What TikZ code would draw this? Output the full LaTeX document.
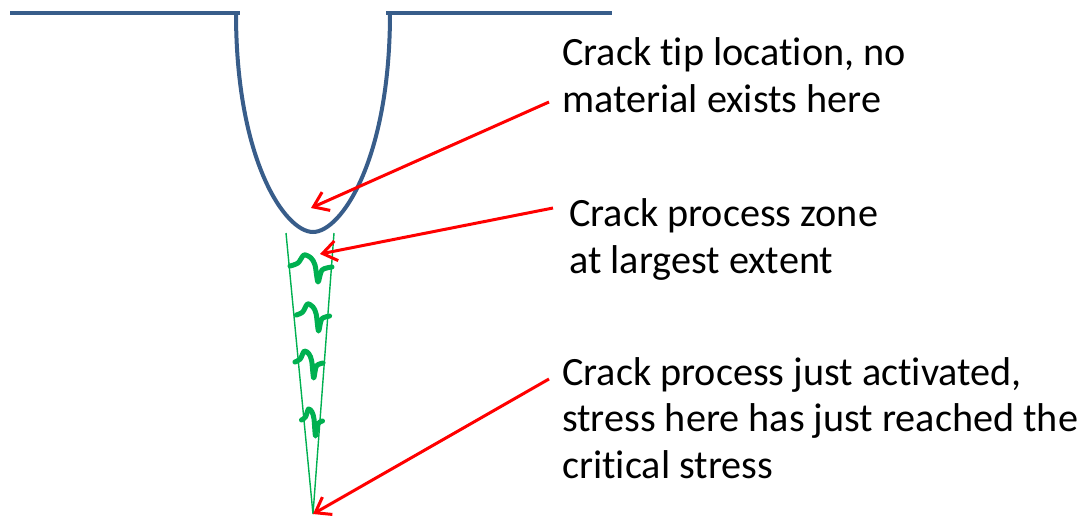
\documentclass[tikz,border=0pt]{standalone}
\usepackage{fontspec}
\setmainfont{Carlito}[Ligatures=NoCommon]
\usetikzlibrary{arrows.meta}
\definecolor{notchblue}{HTML}{385D8A}
\definecolor{zonegreen}{HTML}{00B050}
\tikzset{
  surf/.style={notchblue,line width=4pt},
  wedge/.style={zonegreen,line width=1.4pt},
  pzline/.style={zonegreen,line width=5pt,line cap=round,line join=round},
  pzmark/.pic={\draw[pzline] plot[smooth,tension=0.5] coordinates
    {(-21,0) (-13,-3) (-7,-11) (0,-8) (4,-1) (7,16) (11,4) (21,1)};},
  callout/.style={-{Straight Barb[length=14pt,width=20pt]},red,line width=3pt},
  lbl/.style={font=\fontsize{40.2}{46.5}\selectfont,align=left,anchor=base west,
    inner sep=0pt},
}

\begin{document}
\begin{tikzpicture}[x=1pt,y=-1pt]
  \useasboundingbox (0,0) rectangle (1084,519);
  % notch surface
  \draw[surf] (10,13) -- (240,13);
  \draw[surf] (386,13) -- (612,13);
  \draw[surf] (236,13) .. controls (236,160) and (285,232) .. (313,232)
    .. controls (341,232) and (390,160) .. (390,13);
  % process zone
  \coordinate (wl) at (286,233);
  \coordinate (wr) at (334,233);
  \coordinate (apex) at (313,514);
  \draw[wedge] (wl) -- (apex) -- (wr);
  \pic at (311,266) {pzmark};
  \pic[xscale=0.79] at (313,315) {pzmark};
  \pic[xscale=0.67] at (309,362) {pzmark};
  \pic[xscale=0.5] at (312,420) {pzmark};
  % labels (base = last line)
  \node[lbl] (tiplbl) at (562,112) {Crack tip location, no\\material exists here};
  \node[lbl] (zonelbl) at (569,273) {Crack process zone\\at largest extent};
  \node[lbl] (actlbl) at (562,478)
    {Crack process just activated,\\stress here has just reached the\\critical stress};
  \coordinate (tiptail) at (549,102);
  \coordinate (tip) at (311,208);
  \coordinate (zonetail) at (553,208);
  \coordinate (zonetop) at (320,254);
  \coordinate (acttail) at (549,379);
  \draw[callout] (tiptail) -- (tip);
  \draw[callout] (zonetail) -- (zonetop);
  \draw[callout] (acttail) -- (apex);
\end{tikzpicture}
\end{document}
